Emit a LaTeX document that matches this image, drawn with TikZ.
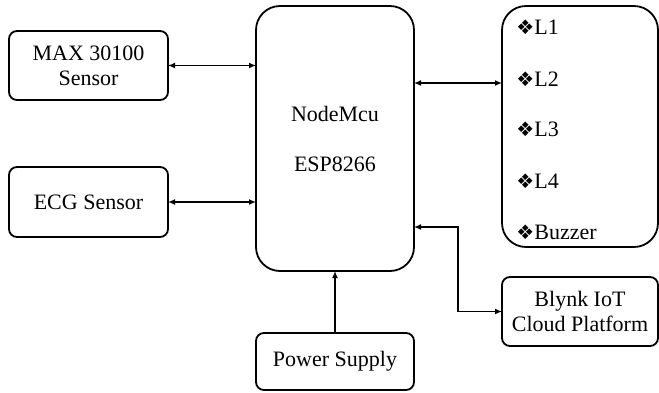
\documentclass[tikz,border=0pt]{standalone}
\usepackage{fontspec}
\setmainfont{Liberation Serif}
\newfontfamily\symfont{DejaVu Sans}
\usetikzlibrary{arrows.meta}
\tikzset{
  blk/.style={draw, line width=0.9pt, rounded corners=4pt, align=center,
    inner sep=0pt, outer sep=0pt, font=\fontsize{11}{12.5}\selectfont},
  bigblk/.style={blk, rounded corners=12pt},
  link/.style={line width=0.9pt, {Latex[length=3.5pt,width=3pt]}-{Latex[length=3.5pt,width=3pt]}},
  feed/.style={line width=0.9pt, -{Latex[length=3.5pt,width=3pt]}}
}
\begin{document}
\begin{tikzpicture}[x=0.5pt, y=-0.5pt]
\useasboundingbox (0,0) rectangle (659,392);
% sensors on the left
\node[blk, minimum width=79.5pt, minimum height=34.5pt] (max) at (88.5,65.5) {MAX 30100\\Sensor};
\node[blk, minimum width=79.5pt, minimum height=35pt] (ecg) at (88.5,202) {ECG Sensor};
% controller
\node[bigblk, minimum width=79pt, minimum height=132.5pt] (mcu) at (335,138.5)
  {NodeMcu\\[12.5pt]ESP8266};
% outputs
\node[bigblk, minimum width=78pt, minimum height=120.5pt] (out) at (580,126.5) {};
\foreach \i/\y/\lab in {1/27/L1, 2/79/L2, 3/129/L3, 4/181/L4, 5/232/Buzzer} {
  \node[anchor=west, inner sep=0pt, font=\fontsize{11}{12.5}\selectfont] (item\i) at (516,\y)
    {{\symfont\fontsize{10}{11}\selectfont ❖}\lab};
}
\node[blk, minimum width=78pt, minimum height=34.5pt] (blynk) at (580,311.5) {Blynk IoT\\Cloud Platform};
\node[blk, minimum width=79pt, minimum height=28.5pt] (power) at (335,361.5) {Power Supply};
% connections
\coordinate (lnk) at (460,83);
\coordinate (bend) at (458,227);
\draw[link] (max.east) -- (max.east -| mcu.west);
\draw[link] (ecg.east) -- (ecg.east -| mcu.west);
\draw[link] (mcu.east |- lnk) -- (out.west |- lnk);
\draw[link] (mcu.east |- bend) -- (bend) |- (blynk.west);
\draw[feed] (power.north) -- (mcu.south);
\end{tikzpicture}
\end{document}
